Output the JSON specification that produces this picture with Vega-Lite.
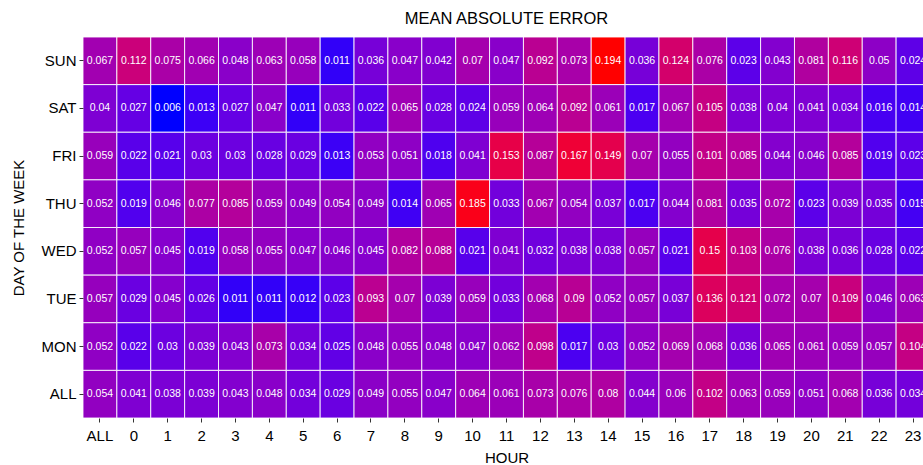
{
 "$schema": "https://vega.github.io/schema/vega-lite/v6.json",
 "autosize": {"type": "none"},
 "padding": {"left": 83, "top": 37, "right": 0, "bottom": 48},
 "width": 847,
 "height": 381,
 "background": "white",
 "title": {"text": "MEAN ABSOLUTE ERROR", "fontSize": 16.5, "font": "Liberation Sans", "fontWeight": "normal", "color": "black", "offset": 9},
 "data": {"values": [
  {"day":"SUN","hour":"ALL","mae":0.067},{"day":"SUN","hour":"0","mae":0.112},{"day":"SUN","hour":"1","mae":0.075},{"day":"SUN","hour":"2","mae":0.066},{"day":"SUN","hour":"3","mae":0.048},{"day":"SUN","hour":"4","mae":0.063},{"day":"SUN","hour":"5","mae":0.058},{"day":"SUN","hour":"6","mae":0.011},{"day":"SUN","hour":"7","mae":0.036},{"day":"SUN","hour":"8","mae":0.047},{"day":"SUN","hour":"9","mae":0.042},{"day":"SUN","hour":"10","mae":0.07},{"day":"SUN","hour":"11","mae":0.047},{"day":"SUN","hour":"12","mae":0.092},{"day":"SUN","hour":"13","mae":0.073},{"day":"SUN","hour":"14","mae":0.194},{"day":"SUN","hour":"15","mae":0.036},{"day":"SUN","hour":"16","mae":0.124},{"day":"SUN","hour":"17","mae":0.076},{"day":"SUN","hour":"18","mae":0.023},{"day":"SUN","hour":"19","mae":0.043},{"day":"SUN","hour":"20","mae":0.081},{"day":"SUN","hour":"21","mae":0.116},{"day":"SUN","hour":"22","mae":0.05},{"day":"SUN","hour":"23","mae":0.024},
  {"day":"SAT","hour":"ALL","mae":0.04},{"day":"SAT","hour":"0","mae":0.027},{"day":"SAT","hour":"1","mae":0.006},{"day":"SAT","hour":"2","mae":0.013},{"day":"SAT","hour":"3","mae":0.027},{"day":"SAT","hour":"4","mae":0.047},{"day":"SAT","hour":"5","mae":0.011},{"day":"SAT","hour":"6","mae":0.033},{"day":"SAT","hour":"7","mae":0.022},{"day":"SAT","hour":"8","mae":0.065},{"day":"SAT","hour":"9","mae":0.028},{"day":"SAT","hour":"10","mae":0.024},{"day":"SAT","hour":"11","mae":0.059},{"day":"SAT","hour":"12","mae":0.064},{"day":"SAT","hour":"13","mae":0.092},{"day":"SAT","hour":"14","mae":0.061},{"day":"SAT","hour":"15","mae":0.017},{"day":"SAT","hour":"16","mae":0.067},{"day":"SAT","hour":"17","mae":0.105},{"day":"SAT","hour":"18","mae":0.038},{"day":"SAT","hour":"19","mae":0.04},{"day":"SAT","hour":"20","mae":0.041},{"day":"SAT","hour":"21","mae":0.034},{"day":"SAT","hour":"22","mae":0.016},{"day":"SAT","hour":"23","mae":0.014},
  {"day":"FRI","hour":"ALL","mae":0.059},{"day":"FRI","hour":"0","mae":0.022},{"day":"FRI","hour":"1","mae":0.021},{"day":"FRI","hour":"2","mae":0.03},{"day":"FRI","hour":"3","mae":0.03},{"day":"FRI","hour":"4","mae":0.028},{"day":"FRI","hour":"5","mae":0.029},{"day":"FRI","hour":"6","mae":0.013},{"day":"FRI","hour":"7","mae":0.053},{"day":"FRI","hour":"8","mae":0.051},{"day":"FRI","hour":"9","mae":0.018},{"day":"FRI","hour":"10","mae":0.041},{"day":"FRI","hour":"11","mae":0.153},{"day":"FRI","hour":"12","mae":0.087},{"day":"FRI","hour":"13","mae":0.167},{"day":"FRI","hour":"14","mae":0.149},{"day":"FRI","hour":"15","mae":0.07},{"day":"FRI","hour":"16","mae":0.055},{"day":"FRI","hour":"17","mae":0.101},{"day":"FRI","hour":"18","mae":0.085},{"day":"FRI","hour":"19","mae":0.044},{"day":"FRI","hour":"20","mae":0.046},{"day":"FRI","hour":"21","mae":0.085},{"day":"FRI","hour":"22","mae":0.019},{"day":"FRI","hour":"23","mae":0.023},
  {"day":"THU","hour":"ALL","mae":0.052},{"day":"THU","hour":"0","mae":0.019},{"day":"THU","hour":"1","mae":0.046},{"day":"THU","hour":"2","mae":0.077},{"day":"THU","hour":"3","mae":0.085},{"day":"THU","hour":"4","mae":0.059},{"day":"THU","hour":"5","mae":0.049},{"day":"THU","hour":"6","mae":0.054},{"day":"THU","hour":"7","mae":0.049},{"day":"THU","hour":"8","mae":0.014},{"day":"THU","hour":"9","mae":0.065},{"day":"THU","hour":"10","mae":0.185},{"day":"THU","hour":"11","mae":0.033},{"day":"THU","hour":"12","mae":0.067},{"day":"THU","hour":"13","mae":0.054},{"day":"THU","hour":"14","mae":0.037},{"day":"THU","hour":"15","mae":0.017},{"day":"THU","hour":"16","mae":0.044},{"day":"THU","hour":"17","mae":0.081},{"day":"THU","hour":"18","mae":0.035},{"day":"THU","hour":"19","mae":0.072},{"day":"THU","hour":"20","mae":0.023},{"day":"THU","hour":"21","mae":0.039},{"day":"THU","hour":"22","mae":0.035},{"day":"THU","hour":"23","mae":0.015},
  {"day":"WED","hour":"ALL","mae":0.052},{"day":"WED","hour":"0","mae":0.057},{"day":"WED","hour":"1","mae":0.045},{"day":"WED","hour":"2","mae":0.019},{"day":"WED","hour":"3","mae":0.058},{"day":"WED","hour":"4","mae":0.055},{"day":"WED","hour":"5","mae":0.047},{"day":"WED","hour":"6","mae":0.046},{"day":"WED","hour":"7","mae":0.045},{"day":"WED","hour":"8","mae":0.082},{"day":"WED","hour":"9","mae":0.088},{"day":"WED","hour":"10","mae":0.021},{"day":"WED","hour":"11","mae":0.041},{"day":"WED","hour":"12","mae":0.032},{"day":"WED","hour":"13","mae":0.038},{"day":"WED","hour":"14","mae":0.038},{"day":"WED","hour":"15","mae":0.057},{"day":"WED","hour":"16","mae":0.021},{"day":"WED","hour":"17","mae":0.15},{"day":"WED","hour":"18","mae":0.103},{"day":"WED","hour":"19","mae":0.076},{"day":"WED","hour":"20","mae":0.038},{"day":"WED","hour":"21","mae":0.036},{"day":"WED","hour":"22","mae":0.028},{"day":"WED","hour":"23","mae":0.022},
  {"day":"TUE","hour":"ALL","mae":0.057},{"day":"TUE","hour":"0","mae":0.029},{"day":"TUE","hour":"1","mae":0.045},{"day":"TUE","hour":"2","mae":0.026},{"day":"TUE","hour":"3","mae":0.011},{"day":"TUE","hour":"4","mae":0.011},{"day":"TUE","hour":"5","mae":0.012},{"day":"TUE","hour":"6","mae":0.023},{"day":"TUE","hour":"7","mae":0.093},{"day":"TUE","hour":"8","mae":0.07},{"day":"TUE","hour":"9","mae":0.039},{"day":"TUE","hour":"10","mae":0.059},{"day":"TUE","hour":"11","mae":0.033},{"day":"TUE","hour":"12","mae":0.068},{"day":"TUE","hour":"13","mae":0.09},{"day":"TUE","hour":"14","mae":0.052},{"day":"TUE","hour":"15","mae":0.057},{"day":"TUE","hour":"16","mae":0.037},{"day":"TUE","hour":"17","mae":0.136},{"day":"TUE","hour":"18","mae":0.121},{"day":"TUE","hour":"19","mae":0.072},{"day":"TUE","hour":"20","mae":0.07},{"day":"TUE","hour":"21","mae":0.109},{"day":"TUE","hour":"22","mae":0.046},{"day":"TUE","hour":"23","mae":0.063},
  {"day":"MON","hour":"ALL","mae":0.052},{"day":"MON","hour":"0","mae":0.022},{"day":"MON","hour":"1","mae":0.03},{"day":"MON","hour":"2","mae":0.039},{"day":"MON","hour":"3","mae":0.043},{"day":"MON","hour":"4","mae":0.073},{"day":"MON","hour":"5","mae":0.034},{"day":"MON","hour":"6","mae":0.025},{"day":"MON","hour":"7","mae":0.048},{"day":"MON","hour":"8","mae":0.055},{"day":"MON","hour":"9","mae":0.048},{"day":"MON","hour":"10","mae":0.047},{"day":"MON","hour":"11","mae":0.062},{"day":"MON","hour":"12","mae":0.098},{"day":"MON","hour":"13","mae":0.017},{"day":"MON","hour":"14","mae":0.03},{"day":"MON","hour":"15","mae":0.052},{"day":"MON","hour":"16","mae":0.069},{"day":"MON","hour":"17","mae":0.068},{"day":"MON","hour":"18","mae":0.036},{"day":"MON","hour":"19","mae":0.065},{"day":"MON","hour":"20","mae":0.061},{"day":"MON","hour":"21","mae":0.059},{"day":"MON","hour":"22","mae":0.057},{"day":"MON","hour":"23","mae":0.104},
  {"day":"ALL","hour":"ALL","mae":0.054},{"day":"ALL","hour":"0","mae":0.041},{"day":"ALL","hour":"1","mae":0.038},{"day":"ALL","hour":"2","mae":0.039},{"day":"ALL","hour":"3","mae":0.043},{"day":"ALL","hour":"4","mae":0.048},{"day":"ALL","hour":"5","mae":0.034},{"day":"ALL","hour":"6","mae":0.029},{"day":"ALL","hour":"7","mae":0.049},{"day":"ALL","hour":"8","mae":0.055},{"day":"ALL","hour":"9","mae":0.047},{"day":"ALL","hour":"10","mae":0.064},{"day":"ALL","hour":"11","mae":0.061},{"day":"ALL","hour":"12","mae":0.073},{"day":"ALL","hour":"13","mae":0.076},{"day":"ALL","hour":"14","mae":0.08},{"day":"ALL","hour":"15","mae":0.044},{"day":"ALL","hour":"16","mae":0.06},{"day":"ALL","hour":"17","mae":0.102},{"day":"ALL","hour":"18","mae":0.063},{"day":"ALL","hour":"19","mae":0.059},{"day":"ALL","hour":"20","mae":0.051},{"day":"ALL","hour":"21","mae":0.068},{"day":"ALL","hour":"22","mae":0.036},{"day":"ALL","hour":"23","mae":0.034}
 ]},
 "encoding": {
  "x": {"field": "hour", "type": "ordinal",
        "sort": ["ALL","0","1","2","3","4","5","6","7","8","9","10","11","12","13","14","15","16","17","18","19","20","21","22","23"],
        "scale": {"paddingInner": 0, "paddingOuter": 0},
        "axis": {"title": "HOUR", "labelAngle": 0, "labelPadding": 6, "titlePadding": 7}},
  "y": {"field": "day", "type": "ordinal",
        "sort": ["SUN","SAT","FRI","THU","WED","TUE","MON","ALL"],
        "scale": {"paddingInner": 0, "paddingOuter": 0},
        "axis": {"title": "DAY OF THE WEEK", "titlePadding": 15}}
 },
 "layer": [
  {"mark": {"type": "rect", "stroke": "white", "strokeWidth": 1, "strokeOpacity": 0.85},
   "encoding": {"color": {"field": "mae", "type": "quantitative",
     "scale": {"domain": [0.006, 0.194], "range": ["#0000ff", "#ff0000"], "interpolate": "lab"},
     "legend": null}}},
  {"mark": {"type": "text", "color": "white", "fontSize": 10.5, "font": "Liberation Sans"},
   "encoding": {"text": {"field": "mae", "type": "nominal"}}}
 ],
 "config": {
  "view": {"stroke": null},
  "axis": {"domain": false, "grid": false, "tickColor": "#333333", "tickSize": 4, "tickWidth": 1,
           "labelFont": "Liberation Sans", "labelFontSize": 15, "labelColor": "black", "labelPadding": 3,
           "titleFont": "Liberation Sans", "titleFontSize": 15, "titleFontWeight": "normal", "titleColor": "black"}
 }
}
